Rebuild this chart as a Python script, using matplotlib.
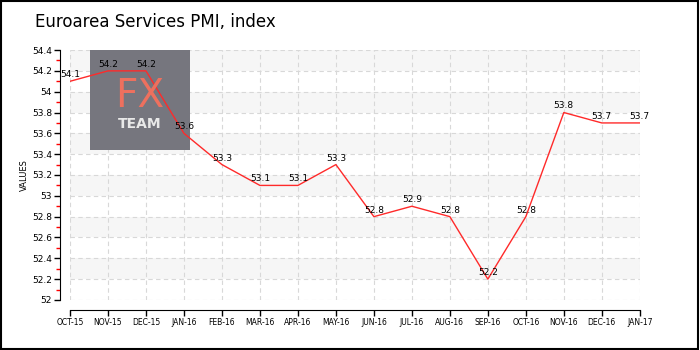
import matplotlib.pyplot as plt
from matplotlib.patches import Rectangle

months = ['OCT-15', 'NOV-15', 'DEC-15', 'JAN-16', 'FEB-16', 'MAR-16', 'APR-16', 'MAY-16',
          'JUN-16', 'JUL-16', 'AUG-16', 'SEP-16', 'OCT-16', 'NOV-16', 'DEC-16', 'JAN-17']
pmi = [54.1, 54.2, 54.2, 53.6, 53.3, 53.1, 53.1, 53.3,
       52.8, 52.9, 52.8, 52.2, 52.8, 53.8, 53.7, 53.7]
y_ticks = [52, 52.2, 52.4, 52.6, 52.8, 53, 53.2, 53.4, 53.6, 53.8, 54, 54.2, 54.4]
y_labels = ['52', '52.2', '52.4', '52.6', '52.8', '53', '53.2', '53.4', '53.6', '53.8', '54', '54.2', '54.4']

fig = plt.figure(figsize=(7, 3.5), dpi=100)
ax = fig.add_axes([0.1, 0.143, 0.814, 0.714])
x = list(range(len(months)))

# alternating bands, top one shaded
for i in range(len(y_ticks) - 1):
    if i % 2 == 1:
        ax.axhspan(y_ticks[i], y_ticks[i + 1], color='#f6f6f6', zorder=0, lw=0)

ax.set_xlim(0, len(months) - 1)
ax.set_ylim(52, 54.4)
ax.grid(True, color='#d8d8d8', linestyle=(0, (4, 3)), lw=0.8, zorder=1)

# watermark
ax.add_patch(Rectangle((90 / 700, 1 - 150 / 350), 100 / 700, 100 / 350, transform=fig.transFigure,
                       facecolor='#76767e', edgecolor='none', zorder=2))
fig.text(140 / 700, 1 - 107 / 350, 'FX', color='#ee705e', fontsize=28, ha='center', va='baseline',
         zorder=3)
fig.text(140 / 700, 1 - 128 / 350, 'TEAM', color='#e8e8e8', fontsize=10, fontweight='bold',
         ha='center', va='baseline', zorder=3)

ax.plot(x, pmi, color='#ff2a2a', lw=1, zorder=4)
for xi, v in zip(x, pmi):
    ax.text(xi, v + 0.02, f'{v:g}', fontsize=6.5, ha='center', va='bottom', zorder=5)

ax.set_xticks(x)
ax.set_xticklabels(months)
ax.set_yticks(y_ticks)
ax.set_yticklabels(y_labels)
ax.set_yticks([v + 0.1 for v in y_ticks[:-1]], minor=True)
ax.tick_params(axis='y', which='minor', color='red', length=3, width=1)
ax.tick_params(axis='both', which='major', length=4, width=1, color='black', pad=2)
ax.tick_params(axis='x', labelsize=5.5)
ax.tick_params(axis='y', labelsize=6.5)
ax.set_ylabel('VALUES', fontsize=6, labelpad=2)

for s in ['top', 'right']:
    ax.spines[s].set_visible(False)
ax.spines['left'].set_position(('outward', 7))
ax.spines['bottom'].set_position(('outward', 7))

fig.text(35 / 700, 1 - 22 / 350, 'Euroarea Services PMI, index', fontsize=12, va='center',
         ha='left')
fig.add_artist(Rectangle((0.001, 0.002), 0.996, 0.995, transform=fig.transFigure, fill=False,
                         edgecolor='black', lw=1.5))

fig.savefig('out.png', dpi=100)
